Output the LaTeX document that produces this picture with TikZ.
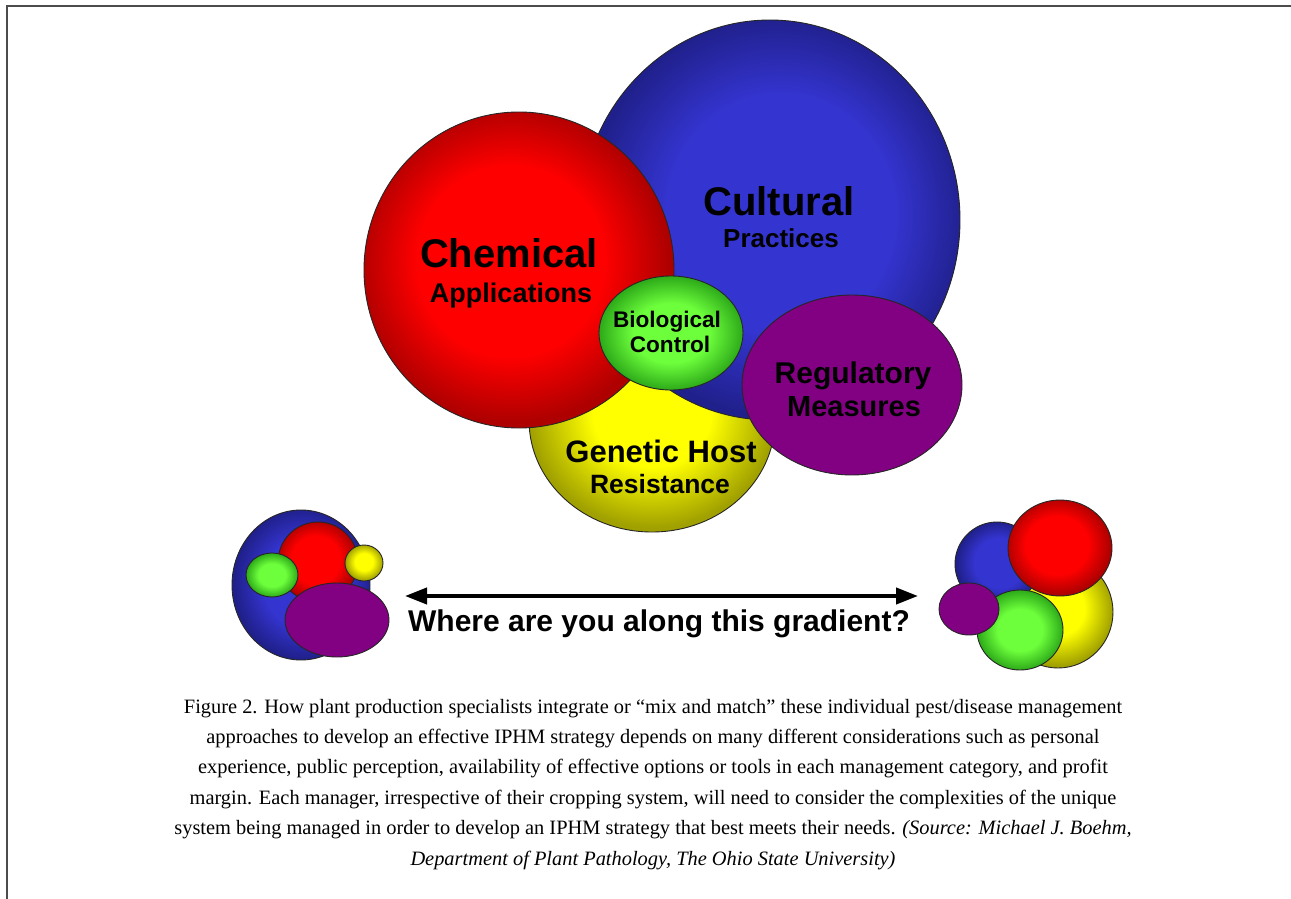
\documentclass[tikz,border=0pt]{standalone}
\usepackage{fontspec}
\setmainfont{Liberation Serif}
\newfontfamily\hv{Liberation Sans}
\usetikzlibrary{arrows.meta}
\definecolor{cred}{RGB}{255,0,0}
\definecolor{credd}{RGB}{175,0,0}
\definecolor{cblue}{RGB}{52,52,208}
\definecolor{cblued}{RGB}{32,32,140}
\definecolor{cgreen}{RGB}{110,255,60}
\definecolor{cgreend}{RGB}{45,170,25}
\definecolor{cyellow}{RGB}{255,255,0}
\definecolor{cyellowd}{RGB}{160,160,0}
\definecolor{cpurple}{RGB}{130,0,130}
\pgfdeclareradialshading{shred}{\pgfpoint{-2bp}{2bp}}{color(0bp)=(cred);color(15bp)=(cred);color(25bp)=(credd);color(50bp)=(credd)}
\pgfdeclareradialshading{shblue}{\pgfpoint{2bp}{1bp}}{color(0bp)=(cblue);color(15bp)=(cblue);color(25bp)=(cblued);color(50bp)=(cblued)}
\pgfdeclareradialshading{shgreen}{\pgfpoint{0bp}{0bp}}{color(0bp)=(cgreen);color(13bp)=(cgreen);color(25bp)=(cgreend);color(50bp)=(cgreend)}
\pgfdeclareradialshading{shyellow}{\pgfpoint{0bp}{2bp}}{color(0bp)=(cyellow);color(12bp)=(cyellow);color(25bp)=(cyellowd);color(50bp)=(cyellowd)}
\tikzset{
  blob/.style={draw=black!85, line width=0.9pt},
  lbl/.style={text=black, inner sep=0pt, anchor=base},
  captxt/.style={inner sep=0pt, anchor=base, font=\fontsize{20.4}{22}\selectfont},
}
\newcommand{\hvs}[1]{\hv\bfseries\fontsize{#1}{#1}\selectfont}
\begin{document}
\begin{tikzpicture}[x=1pt,y=-1pt]
\useasboundingbox (0,0) rectangle (1291,899);
\fill[white] (0,0) rectangle (1291,899);
\draw[line width=2pt, black!70] (7,899) -- (7,6) -- (1291,6);

% main cluster
\path[blob, shading=shyellow] (652,420) ellipse [x radius=123, y radius=112];
\path[blob, shading=shblue] (770,220) ellipse [x radius=190, y radius=200];
\path[blob, shading=shred] (519,270) ellipse [x radius=155, y radius=158];
\path[blob, fill=cpurple] (852,385) ellipse [x radius=110, y radius=90];
\path[blob, shading=shgreen] (671,333) ellipse [x radius=72, y radius=57];

\node[lbl, font=\hvs{40}] (chem) at (509,267) {Chemical};
\node[lbl, font=\hvs{27}] (appl) at (511,302) {Applications};
\node[lbl, font=\hvs{40}] (cult) at (779,215) {Cultural};
\node[lbl, font=\hvs{26}] (prac) at (781,247) {Practices};
\node[lbl, font=\hvs{22.6}] (bio) at (667,327) {Biological};
\node[lbl, font=\hvs{22.6}] (ctrl) at (670,352) {Control};
\node[lbl, font=\hvs{30}] (regu) at (853,383) {Regulatory};
\node[lbl, font=\hvs{29}] (meas) at (854,416) {Measures};
\node[lbl, font=\hvs{31}] (gene) at (661,462) {Genetic Host};
\node[lbl, font=\hvs{26.5}] (resi) at (660,493) {Resistance};

% left small cluster
\path[blob, shading=shblue] (301,585) ellipse [x radius=69, y radius=75];
\path[blob, shading=shred] (318,562) ellipse [x radius=40, y radius=40];
\path[blob, shading=shgreen] (272,575) ellipse [x radius=26, y radius=22];
\path[blob, shading=shyellow] (364,563) ellipse [x radius=19, y radius=18];
\path[blob, fill=cpurple] (337,620) ellipse [x radius=52, y radius=37];

% right small cluster
\path[blob, shading=shyellow] (1058,612) ellipse [x radius=55, y radius=56];
\path[blob, shading=shblue] (997,564) ellipse [x radius=42, y radius=42];
\path[blob, shading=shred] (1060,548) ellipse [x radius=52, y radius=48];
\path[blob, shading=shgreen] (1020,630) ellipse [x radius=43, y radius=40];
\path[blob, fill=cpurple] (969,609) ellipse [x radius=30, y radius=26];

% gradient arrow
\coordinate (al) at (405,596);
\coordinate (ar) at (918,596);
\draw[line width=4pt, {Triangle[length=22pt,width=16pt]}-{Triangle[length=22pt,width=16pt]}] (al) -- (ar);
\node[lbl, font=\hvs{30}] (where) at (659,631) {Where are you along this gradient?};

% caption
\node[captxt] (c1) at (653,713) {Figure 2. How plant production specialists integrate or “mix and match” these individual pest/disease management};
\node[captxt] (c2) at (653,743.4) {approaches to develop an effective IPHM strategy depends on many different considerations such as personal};
\node[captxt] (c3) at (653,773.8) {experience, public perception, availability of effective options or tools in each management category, and profit};
\node[captxt] (c4) at (653,804.2) {margin. Each manager, irrespective of their cropping system, will need to consider the complexities of the unique};
\node[captxt] (c5) at (653,834.6) {system being managed in order to develop an IPHM strategy that best meets their needs. \textit{(Source: Michael J. Boehm,}};
\node[captxt] (c6) at (653,865) {\textit{Department of Plant Pathology, The Ohio State University)}};
\end{tikzpicture}
\end{document}
